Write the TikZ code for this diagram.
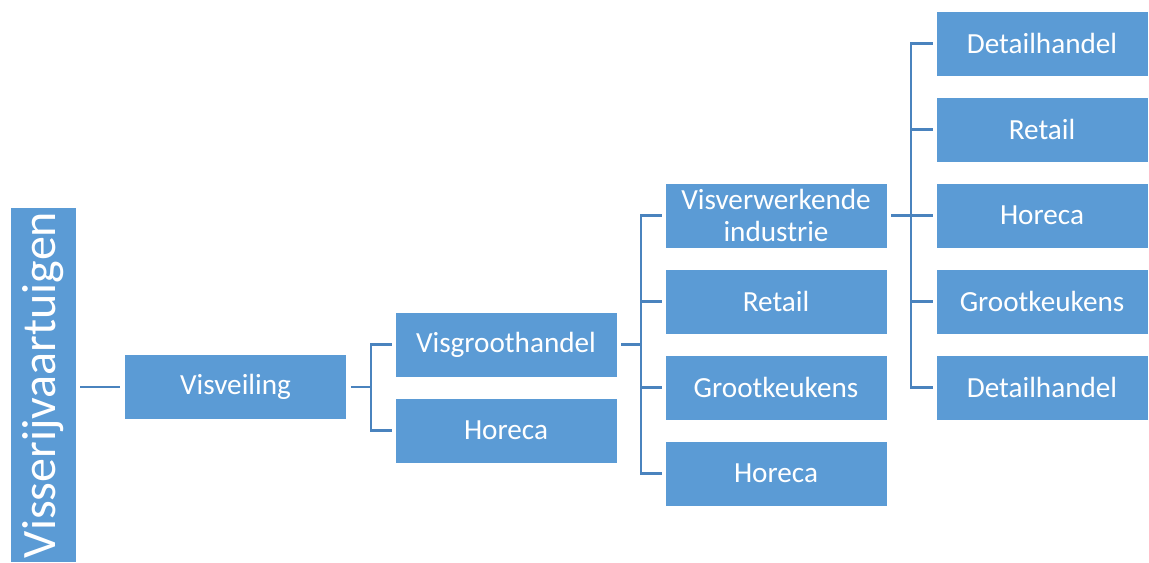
\documentclass[tikz,border=0pt]{standalone}
\usepackage{fontspec}
\setmainfont{Carlito}
\usetikzlibrary{positioning}
\definecolor{boxblue}{HTML}{5B9BD5}
\definecolor{linkblue}{HTML}{4A83BE}
\tikzset{box/.style={rectangle,fill=boxblue,draw=white,line width=0.4pt,text=white,
    minimum width=111pt,minimum height=32.5pt,inner sep=2pt,align=center,
    font=\fontsize{14.6}{16}\selectfont}}
\tikzset{endbox/.style={box,minimum width=106pt}}
\tikzset{link/.style={draw=linkblue,line width=1.3pt}}

\begin{document}
\begin{tikzpicture}[x=0.5pt,y=-0.5pt,node distance=10.1pt]
                \useasboundingbox (0,0) rectangle (1149,562);
                % source
                \node[box,rotate=90,minimum width=177pt,minimum height=33pt,
                    font=\fontsize{24}{24}\selectfont] (vaart) at (43,385) {Visserijvaartuigen};
                \node[box] (veil) at (235.5,387) {Visveiling};
                % second level
                \node[box] (groot) at (506,344.5) {Visgroothandel};
                \node[box] (hor1) [below=of groot] {Horeca};
                % third level
                \node[box] (ind) at (776,215.5) {Visverwerkende\\industrie};
                \node[box] (ret1) [below=of ind] {Retail};
                \node[box] (keuk1) [below=of ret1] {Grootkeukens};
                \node[box] (hor2) [below=of keuk1] {Horeca};
                % fourth level
                \node[endbox] (det1) at (1042,43.5) {Detailhandel};
                \node[endbox] (ret2) [below=of det1] {Retail};
                \node[endbox] (hor3) [below=of ret2] {Horeca};
                \node[endbox] (keuk2) [below=of hor3] {Grootkeukens};
                \node[endbox] (det2) [below=of keuk2] {Detailhandel};
                % junctions
                \coordinate (j1) at (371,387);
                \coordinate (j2) at (641,344.5);
                \coordinate (j3) at (911,215.5);
                \path[link,shorten <=2pt]
                    (veil -| vaart.south) edge [shorten >=2pt] (veil)
                    (veil) edge (j1)
                    (groot) edge (j2)
                    (ind) edge (j3)
                ;
                \draw[link,shorten >=1.5pt] (j1) |- (groot);
                \draw[link,shorten >=1.5pt] (j1) |- (hor1);
                \foreach \n in {ind,ret1,keuk1,hor2}
                    \draw[link,shorten >=1.5pt] (j2) |- (\n);
                \foreach \n in {det1,ret2,hor3,keuk2,det2}
                    \draw[link,shorten >=1.5pt] (j3) |- (\n);
            \end{tikzpicture}
\end{document}
